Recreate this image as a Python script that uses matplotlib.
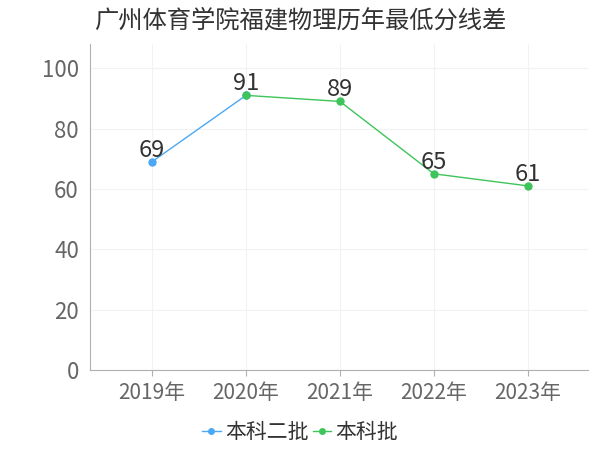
import matplotlib
matplotlib.use('Agg')
import matplotlib.pyplot as plt
from matplotlib.lines import Line2D

plt.rcParams['font.family'] = ['Noto Sans CJK SC', 'DejaVu Sans']

# Data
years = ['2019年', '2020年', '2021年', '2022年', '2023年']
s1_name = '本科二批'
s1_idx = [0, 1]
s1_vals = [69, 91]
s2_name = '本科批'
s2_idx = [1, 2, 3, 4]
s2_vals = [91, 89, 65, 61]
yticks = [0, 20, 40, 60, 80, 100]

blue = '#4ba8f5'
green = '#3dc45a'

fig = plt.figure(figsize=(6, 4.5), dpi=100)
ax = fig.add_axes([0.15, 0.178, 0.83, 0.724])

ax.plot(s1_idx, s1_vals, color=blue, lw=1, marker='o', ms=5, zorder=3)
ax.plot(s2_idx, s2_vals, color=green, lw=1, marker='o', ms=5, zorder=3)

for i, v in zip(s1_idx, s1_vals):
    if i not in s2_idx:
        ax.annotate(str(v), (i, v), xytext=(0, 0), textcoords='offset points',
                    ha='center', va='bottom', fontsize=17, color='#333333')
for i, v in zip(s2_idx, s2_vals):
    ax.annotate(str(v), (i, v), xytext=(0, 0), textcoords='offset points',
                ha='center', va='bottom', fontsize=17, color='#333333')

ax.set_xlim(-0.66, 4.64)
ax.set_ylim(0, 108)
ax.set_xticks(range(len(years)))
ax.set_xticklabels(years)
ax.set_yticks(yticks)
ax.grid(True, color='#f2f2f2', lw=0.8)
ax.set_axisbelow(True)
for side in ['top', 'right']:
    ax.spines[side].set_visible(False)
for side in ['left', 'bottom']:
    ax.spines[side].set_color('#b0b0b0')
ax.tick_params(axis='x', colors='#b0b0b0', labelcolor='#666666', labelsize=15, length=4, pad=5)
ax.tick_params(axis='y', colors='#b0b0b0', labelcolor='#666666', labelsize=16, length=0, pad=8)

fig.text(0.5, 0.955, '广州体育学院福建物理历年最低分线差', ha='center', va='center',
         fontsize=17.5, color='#333333')

handles = [Line2D([0], [0], color=blue, lw=1, marker='o', ms=4),
           Line2D([0], [0], color=green, lw=1, marker='o', ms=4)]
fig.legend(handles, [s1_name, s2_name], loc='center', bbox_to_anchor=(0.5, 0.04),
           ncol=2, frameon=False, fontsize=15, handlelength=0.9, handletextpad=0.2,
           columnspacing=0.2, labelcolor='#333333')

fig.savefig('out.png', dpi=100)
